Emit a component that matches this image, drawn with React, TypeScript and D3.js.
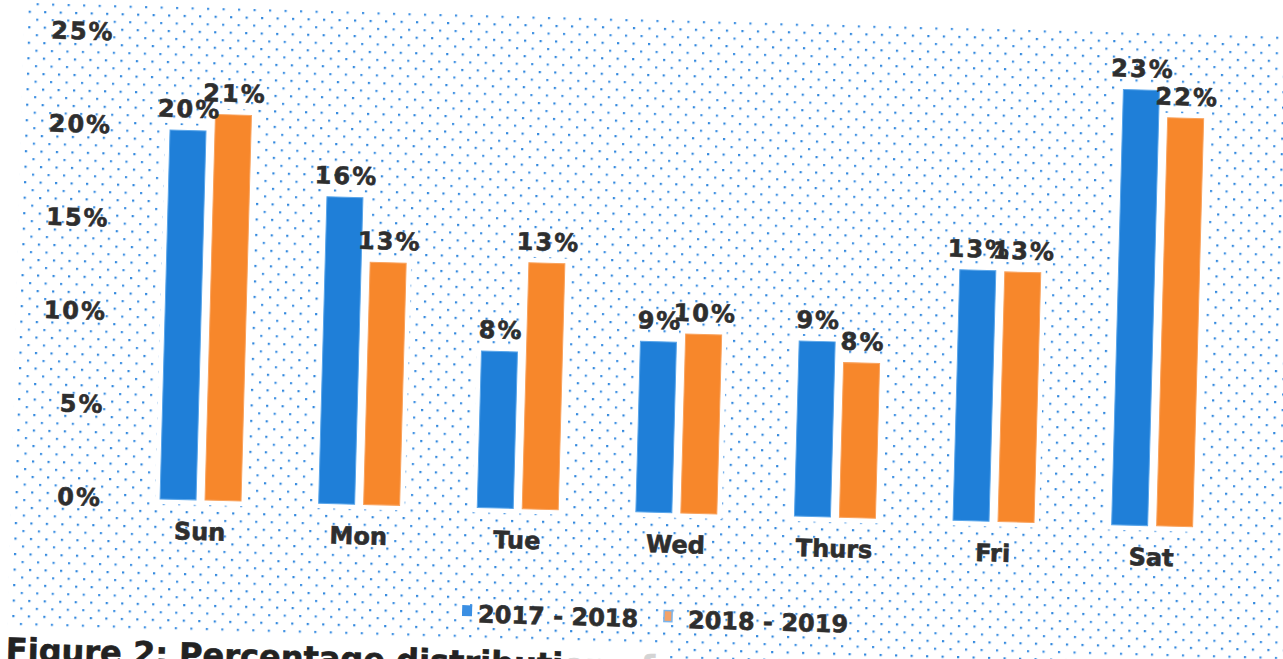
import React from "react";
import * as d3 from "d3";

const days = ["Sun", "Mon", "Tue", "Wed", "Thurs", "Fri", "Sat"];
const seriesNames = ["2017 - 2018", "2018 - 2019"];
const values2017 = [19.8, 16.45, 8.4, 9.15, 9.4, 13.45, 23.35];
const values2018 = [20.7, 13.0, 13.2, 9.6, 8.3, 13.4, 21.9];
const yTicks = [0, 5, 10, 15, 20, 25];
const caption = "Figure 2: Percentage distributi";
const captionFaded = "on of";

const W = 1283;
const H = 659;
const colors = ["#1f7fd8", "#f7872b"];
const textColor = "#2e2e2e";
const FONT = "'DejaVu Sans', Verdana, sans-serif";

export default function App() {
  const x = d3
    .scaleBand<string>()
    .domain(days)
    .range([121.2, 1231.8])
    .paddingInner(0.4895)
    .paddingOuter(0.24475);
  const xs = d3
    .scaleBand<string>()
    .domain(seriesNames)
    .range([0, x.bandwidth()])
    .paddingInner(0.2)
    .paddingOuter(0);
  const y = d3.scaleLinear().domain([0, 25]).range([500, 34]);
  const seriesValues = [values2017, values2018];

  const boldText = {
    fontWeight: "bold" as const,
    fill: textColor,
    stroke: textColor,
    strokeWidth: 0.6,
  };

  return (
    <svg
      width={W}
      height={H}
      viewBox={`0 0 ${W} ${H}`}
      style={{ position: "absolute", left: 0, top: 0, display: "block", background: "#ffffff" }}
      fontFamily={FONT}
    >
      <defs>
        <pattern id="dots" x="0" y="0" width="15.5" height="15.5" patternUnits="userSpaceOnUse">
          <rect x="0" y="0" width="2.2" height="2.2" fill="#3389de" />
          <rect x="7.75" y="7.75" width="2.2" height="2.2" fill="#4393e3" />
        </pattern>
      </defs>
      <rect x={0} y={0} width={W} height={H} fill="#ffffff" />
      <g transform="rotate(1.55, 201, 500)">
        <rect x={11} y={7} width={1400} height={800} fill="url(#dots)" />
        <rect x={-30} y={634} width={700} height={120} fill="#ffffff" />

        {/* y tick labels */}
        {yTicks.map((t) => (
          <text
            key={"yt" + t}
            x={102}
            y={y(t)}
            dy="0.36em"
            textAnchor="end"
            fontSize={24}
            letterSpacing={2}
            {...boldText}
          >
            {t + "%"}
          </text>
        ))}

        {/* bar halos */}
        {days.map((d, i) =>
          seriesNames.map((s, j) => {
            const v = seriesValues[j][i];
            const bx = (x(d) as number) + (xs(s) as number);
            return (
              <rect
                key={"h" + d + s}
                x={bx - 5}
                y={y(v) - 5}
                width={xs.bandwidth() + 10}
                height={y(0) - y(v) + 10}
                fill="#ffffff"
              />
            );
          })
        )}

        {/* bars */}
        {days.map((d, i) =>
          seriesNames.map((s, j) => {
            const v = seriesValues[j][i];
            const bx = (x(d) as number) + (xs(s) as number);
            return (
              <rect
                key={"b" + d + s}
                x={bx}
                y={y(v)}
                width={xs.bandwidth()}
                height={y(0) - y(v)}
                fill={colors[j]}
                stroke={j === 0 ? "#5aa6ea" : "#f9a35e"}
                strokeWidth={1}
              />
            );
          })
        )}

        {/* value labels */}
        {days.map((d, i) =>
          seriesNames.map((s, j) => {
            const v = seriesValues[j][i];
            const cx = (x(d) as number) + (xs(s) as number) + xs.bandwidth() / 2;
            return (
              <text
                key={"l" + d + s}
                x={cx + 1}
                y={y(v) - 13}
                textAnchor="middle"
                fontSize={24}
                letterSpacing={2}
                {...boldText}
              >
                {Math.round(v) + "%"}
              </text>
            );
          })
        )}

        {/* category labels */}
        {days.map((d) => (
          <text
            key={"c" + d}
            x={(x(d) as number) + x.bandwidth() / 2}
            y={y(0) + 40}
            textAnchor="middle"
            fontSize={24}
            {...boldText}
          >
            {d}
          </text>
        ))}

        {/* legend */}
        <rect x={465} y={598} width={10} height={11} fill="#3b8fe3" />
        <text x={481} y={615} fontSize={24} {...boldText}>
          {seriesNames[0]}
        </text>
        <rect x={667} y={598} width={8} height={11} fill="#f3a268" stroke="#7ab4ec" strokeWidth={1.5} />
        <text x={691} y={615} fontSize={24} {...boldText}>
          {seriesNames[1]}
        </text>

        {/* caption */}
        <text x={10} y={666} fontSize={32} fontWeight="bold" fill="#222222" stroke="#222222" strokeWidth={0.6}>
          {caption}
          <tspan fill="#d4d4d4" stroke="#d4d4d4">{captionFaded}</tspan>
        </text>
      </g>
    </svg>
  );
}
